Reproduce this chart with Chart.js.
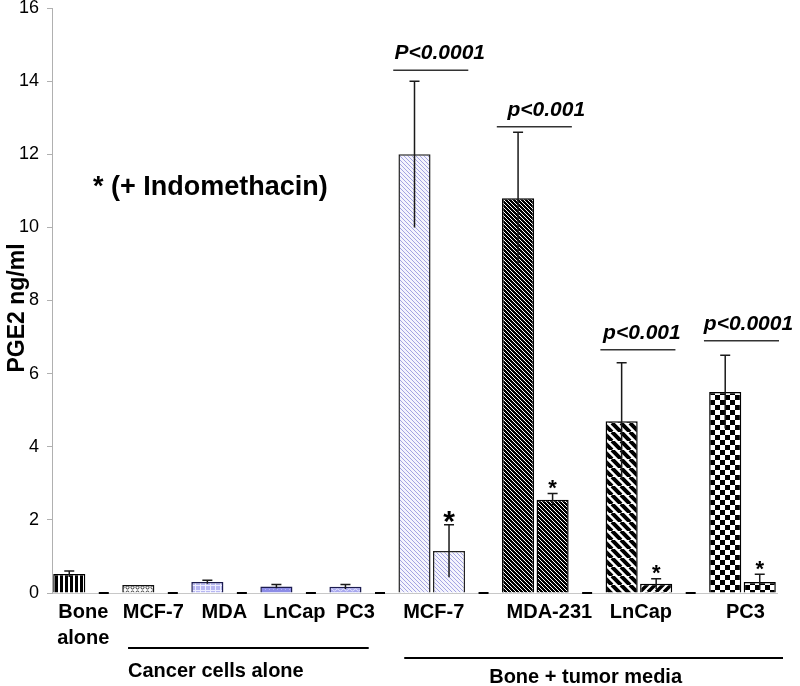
<!DOCTYPE html>
<html>
<head>
<meta charset="utf-8">
<script src="https://cdn.jsdelivr.net/npm/chart.js@4.4.1/dist/chart.umd.min.js"></script>
<style>
    html, body { margin: 0; padding: 0; background: #fff; }
</style>
</head>
<body>
<canvas id="pgeChart" width="800" height="686"></canvas>
<script>
// one slot per bar, empty slots are the gaps between groups
const slotNames = ['Bone alone', '', 'MCF-7', '', 'MDA', '', 'LnCap', '', 'PC3', '',
    'MCF-7', 'MCF-7 +Indo', '', 'MDA-231', 'MDA-231 +Indo', '', 'LnCap', 'LnCap +Indo', '', 'PC3', 'PC3 +Indo'];
const pge2Values = [0.52, null, 0.22, null, 0.30, null, 0.18, null, 0.17, null,
    12.0, 1.15, null, 10.8, 2.55, null, 4.7, 0.25, null, 5.5, 0.30];
const pge2Errors = [0.08, null, 0, null, 0.05, null, 0.05, null, 0.06, null,
    2.0, 0.72, null, 1.8, 0.17, null, 1.6, 0.14, null, 1.0, 0.21];
const gapMarks = [null, 0, null, 0, null, 0, null, 0, null, 0,
    null, null, 0, null, null, 0, null, null, 0, null, null];
const indoStars = ['', '', '', '', '', '', '', '', '', '',
    '', '*', '', '', '*', '', '', '*', '', '', '*'];

const xLabels = [['Bone', 'alone'], ['MCF-7'], ['MDA'], ['LnCap'], ['PC3'],
    ['MCF-7'], ['MDA-231'], ['LnCap'], ['PC3']];
const xLabelSlots = [[0], [2], [4], [6], [8], [10, 11], [13, 14], [16, 17], [19, 20]];

const pLabels = ['P<0.0001', 'p<0.001', 'p<0.001', 'p<0.0001'];
const pSlots = [[10, 11], [13, 14], [16, 17], [19, 20]];
const pLevels = [14.3, 12.75, 6.65, 6.9];

const groupNames = ['Cancer cells alone', 'Bone + tumor media'];
const groupSlots = [[2, 8], [10, 20]];

const yTicks = { min: 0, max: 16, step: 2 };
const yTitle = 'PGE2 ng/ml';
const noteText = '* (+ Indomethacin)';

const FONT = '"Liberation Sans", Arial, sans-serif';

// 패턴 타일
function makeTile(w, h, draw) {
    const c = document.createElement('canvas');
    c.width = w;
    c.height = h;
    const g = c.getContext('2d');
    draw(g, w, h);
    return g.createPattern(c, 'repeat');
}

function diagTile(n, bg, fg, lw, forward) {
    return makeTile(n, n, (g) => {
        g.fillStyle = bg;
        g.fillRect(0, 0, n, n);
        g.strokeStyle = fg;
        g.lineWidth = lw;
        g.beginPath();
        for (let k = -n; k <= n; k += n) {
            if (forward) {
                g.moveTo(k, n);
                g.lineTo(k + n, 0);
            } else {
                g.moveTo(k, 0);
                g.lineTo(k + n, n);
            }
        }
        g.stroke();
    });
}

function checkerTile(s) {
    return makeTile(s * 2, s * 2, (g) => {
        g.fillStyle = '#fff';
        g.fillRect(0, 0, s * 2, s * 2);
        g.fillStyle = '#000';
        g.fillRect(0, 0, s, s);
        g.fillRect(s, s, s, s);
    });
}

const vertStripes = makeTile(5, 5, (g) => {
    g.fillStyle = '#fff';
    g.fillRect(0, 0, 5, 5);
    g.fillStyle = '#000';
    g.fillRect(0, 0, 3, 5);
});
const smallRings = makeTile(5, 5, (g) => {
    g.fillStyle = '#fff';
    g.fillRect(0, 0, 5, 5);
    g.strokeStyle = '#222';
    g.lineWidth = 0.9;
    g.beginPath();
    g.arc(2.5, 2.5, 1.5, 0, Math.PI * 2);
    g.stroke();
});
const lavGrid = makeTile(5, 5, (g) => {
    g.fillStyle = '#b6b6f2';
    g.fillRect(0, 0, 5, 5);
    g.fillStyle = '#eeeeff';
    g.fillRect(0, 0, 5, 1);
    g.fillRect(0, 0, 1, 5);
});
const blueDots = makeTile(4, 4, (g) => {
    g.fillStyle = '#8c8ce6';
    g.fillRect(0, 0, 4, 4);
    g.fillStyle = '#b4b4f2';
    g.fillRect(1, 1, 1, 1);
});
const blueWaves = makeTile(6, 4, (g) => {
    g.fillStyle = '#a8a8ee';
    g.fillRect(0, 0, 6, 4);
    g.strokeStyle = '#e4e4ff';
    g.lineWidth = 1;
    g.beginPath();
    g.moveTo(0, 2);
    g.quadraticCurveTo(1.5, 0, 3, 2);
    g.quadraticCurveTo(4.5, 4, 6, 2);
    g.stroke();
});

const barFills = [vertStripes, null, smallRings, null, lavGrid, null, blueDots, null, blueWaves, null,
    diagTile(4, '#f4f4fd', '#a4a4e2', 1, false), diagTile(4, '#f4f4fd', '#a4a4e2', 1, false), null,
    diagTile(4, '#000', '#fff', 1, false), diagTile(4, '#000', '#fff', 1, false), null,
    diagTile(9, '#fff', '#000', 4, false), diagTile(8, '#fff', '#000', 3.5, true), null,
    checkerTile(5), checkerTile(5)];
const barBorders = ['#000', null, '#111', null, '#1c1c50', null, '#1c1c50', null, '#1c1c50', null,
    '#222', '#222', null, '#000', '#000', null, '#000', '#000', null, '#000', '#000'];

// 라벨 위치 보정 (px)
const labelShift = [14, 15, 17, 18, 10, 2, 14, 2, 3];
const pTextShift = [8, 11, 3, 6];

const annotate = {
    id: 'annotate',
    afterDatasetsDraw(chart) {
        const { ctx, chartArea } = chart;
        const xs = chart.scales.x;
        const ys = chart.scales.y;
        const half = (xs.getPixelForValue(1) - xs.getPixelForValue(0)) / 2;
        const bars = chart.getDatasetMeta(0).data;
        ctx.save();

        // error bars
        ctx.strokeStyle = '#1a1a1a';
        ctx.lineWidth = 1.5;
        pge2Values.forEach((v, i) => {
            if (v === null || !pge2Errors[i]) return;
            const bx = bars[i].x;
            const top = ys.getPixelForValue(v + pge2Errors[i]);
            const bot = ys.getPixelForValue(Math.max(0, v - pge2Errors[i]));
            ctx.beginPath();
            ctx.moveTo(bx, bot);
            ctx.lineTo(bx, top);
            ctx.moveTo(bx - 5, top);
            ctx.lineTo(bx + 5, top);
            ctx.stroke();
        });

        // stars
        ctx.fillStyle = '#000';
        ctx.textAlign = 'center';
        ctx.textBaseline = 'alphabetic';
        indoStars.forEach((s, i) => {
            if (!s) return;
            const size = i === 11 ? 30 : 22;
            const cap = ys.getPixelForValue(pge2Values[i] + pge2Errors[i]);
            ctx.font = `bold ${size}px ${FONT}`;
            ctx.fillText(s, bars[i].x, cap - 11 + size * 0.57);
        });

        // p values
        pLabels.forEach((t, k) => {
            const [a, b] = pSlots[k];
            const left = xs.getPixelForValue(a) - half;
            const right = xs.getPixelForValue(b) + half;
            const ly = ys.getPixelForValue(pLevels[k]);
            ctx.strokeStyle = '#333';
            ctx.lineWidth = 1.5;
            ctx.beginPath();
            ctx.moveTo(left - 4, ly);
            ctx.lineTo(right + 2, ly);
            ctx.stroke();
            ctx.font = `italic bold 21px ${FONT}`;
            ctx.textBaseline = 'middle';
            ctx.fillText(t, (left + right) / 2 + pTextShift[k], ly - 17);
        });

        // x labels
        ctx.font = `bold 20px ${FONT}`;
        ctx.textBaseline = 'middle';
        xLabels.forEach((lines, k) => {
            const sl = xLabelSlots[k];
            const cx = (xs.getPixelForValue(sl[0]) + xs.getPixelForValue(sl[sl.length - 1])) / 2 + labelShift[k];
            lines.forEach((ln, j) => {
                ctx.fillText(ln, cx, chartArea.bottom + 19 + j * 26);
            });
        });

        // group lines + captions
        const lineY = [55, 65];
        const capY = [78, 84];
        groupNames.forEach((name, k) => {
            const [a, b] = groupSlots[k];
            const left = xs.getPixelForValue(a) - half + 7;
            const right = xs.getPixelForValue(b) + half + 6;
            ctx.strokeStyle = '#000';
            ctx.lineWidth = 2;
            ctx.beginPath();
            ctx.moveTo(left, chartArea.bottom + lineY[k]);
            ctx.lineTo(right, chartArea.bottom + lineY[k]);
            ctx.stroke();
            ctx.font = `bold 20px ${FONT}`;
            if (k === 0) {
                ctx.textAlign = 'left';
                ctx.fillText(name, left, chartArea.bottom + capY[k]);
            } else {
                ctx.textAlign = 'center';
                ctx.fillText(name, (left + right) / 2 - 8, chartArea.bottom + capY[k]);
            }
        });

        // note
        ctx.textAlign = 'left';
        ctx.font = `bold 27px ${FONT}`;
        ctx.fillText(noteText, 93, 188);

        // y title
        ctx.translate(18, 308);
        ctx.rotate(-Math.PI / 2);
        ctx.textAlign = 'center';
        ctx.font = `bold 23px ${FONT}`;
        ctx.fillText(yTitle, 0, 0);
        ctx.restore();
    },
};

const ctx = document.getElementById('pgeChart').getContext('2d');
const pgeChart = new Chart(ctx, {
    data: {
        labels: slotNames,
        datasets: [
            {
                type: 'bar',
                data: pge2Values,
                backgroundColor: barFills,
                borderColor: barBorders,
                borderWidth: 1.5,
                barPercentage: 0.93,
                categoryPercentage: 1,
                order: 2,
            },
            {
                type: 'line',
                data: gapMarks,
                showLine: false,
                clip: false,
                pointStyle: 'line',
                pointRadius: 5,
                pointHoverRadius: 5,
                borderColor: '#000',
                pointBorderColor: '#000',
                pointBorderWidth: 2,
                order: 1,
            },
        ],
    },
    options: {
        responsive: false,
        animation: false,
        layout: { padding: { top: 8, right: 23, bottom: 0, left: 0 } },
        plugins: {
            legend: { display: false },
            tooltip: { enabled: false },
        },
        scales: {
            x: {
                type: 'category',
                offset: true,
                grid: { display: false },
                border: { display: true, color: '#c8c8c8', width: 1 },
                ticks: { display: false },
                afterFit(scale) {
                    scale.height = 93;
                    scale.paddingLeft = 0;
                    scale.paddingRight = 0;
                },
            },
            y: {
                min: yTicks.min,
                max: yTicks.max,
                ticks: {
                    stepSize: yTicks.step,
                    color: '#000',
                    padding: 8,
                    font: { family: FONT, size: 18 },
                },
                grid: { display: true, drawOnChartArea: false, drawTicks: true, tickLength: 5, color: '#b0b0b0' },
                border: { display: true, color: '#b0b0b0', width: 1 },
                afterFit(scale) {
                    scale.width = 52;
                    scale.paddingTop = 0;
                    scale.paddingBottom = 0;
                },
            },
        },
    },
    plugins: [annotate],
});
</script>
</body>
</html>
